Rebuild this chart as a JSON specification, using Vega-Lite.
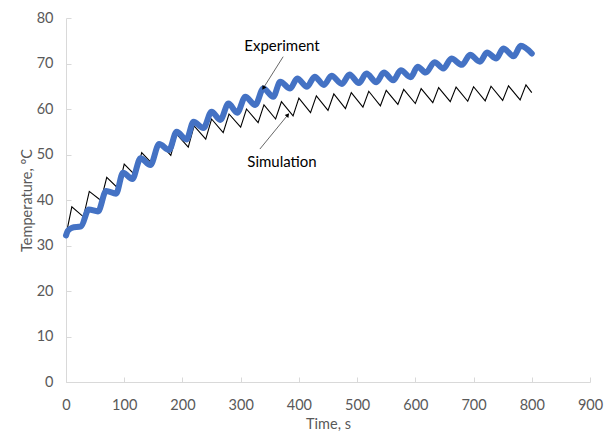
{
  "$schema": "https://vega.github.io/schema/vega-lite/v6.json",
  "width": 524,
  "height": 364,
  "autosize": {"type": "none"},
  "padding": {"left": 66, "top": 18, "right": 21, "bottom": 51},
  "background": "white",
  "config": {
    "view": {"stroke": null},
    "font": "Lato",
    "axis": {
      "grid": false,
      "domainColor": "#d9d9d9",
      "tickColor": "#d9d9d9",
      "tickSize": -5,
      "labelFlush": false,
      "labelColor": "#595959",
      "labelFont": "Lato",
      "labelFontSize": 14.5,
      "titleColor": "#595959",
      "titleFont": "Lato",
      "titleFontSize": 14.5,
      "titleFontWeight": "normal"
    }
  },
  "datasets": {
    "sim": [
      {"t":0,"T":32.3},{"t":10,"T":38.5},{"t":30,"T":36.3},{"t":40,"T":41.9},{"t":60,"T":39.9},{"t":70,"T":45.0},
      {"t":90,"T":42.5},{"t":100,"T":47.9},{"t":120,"T":45.3},{"t":130,"T":50.4},{"t":150,"T":47.7},{"t":160,"T":52.6},
      {"t":180,"T":49.8},{"t":190,"T":54.5},{"t":210,"T":51.6},{"t":220,"T":56.3},{"t":240,"T":53.4},{"t":250,"T":57.8},
      {"t":270,"T":54.8},{"t":280,"T":58.9},{"t":300,"T":56.0},{"t":310,"T":60.0},{"t":330,"T":57.0},{"t":340,"T":60.9},
      {"t":360,"T":57.8},{"t":370,"T":61.6},{"t":390,"T":58.5},{"t":400,"T":62.4},{"t":420,"T":59.2},{"t":430,"T":62.9},
      {"t":450,"T":59.7},{"t":460,"T":63.3},{"t":480,"T":60.1},{"t":490,"T":63.6},{"t":510,"T":60.4},{"t":520,"T":63.9},
      {"t":540,"T":60.7},{"t":550,"T":64.1},{"t":570,"T":61.0},{"t":580,"T":64.3},{"t":600,"T":61.2},{"t":610,"T":64.5},
      {"t":630,"T":61.4},{"t":640,"T":64.7},{"t":660,"T":61.6},{"t":670,"T":64.8},{"t":690,"T":61.7},{"t":700,"T":64.9},
      {"t":720,"T":61.8},{"t":730,"T":65.0},{"t":750,"T":61.9},{"t":760,"T":65.1},{"t":780,"T":62.0},{"t":790,"T":65.3},
      {"t":800,"T":63.6}
    ],
    "exp": [
      {"t":0,"T":32.2},{"t":3,"T":33.2},{"t":10,"T":33.9},{"t":26,"T":34.2},{"t":39,"T":37.9},{"t":55,"T":37.5},
      {"t":69,"T":42.0},{"t":86,"T":41.4},{"t":98,"T":46.0},{"t":114,"T":44.6},{"t":128,"T":49.2},{"t":145,"T":47.7},
      {"t":160,"T":52.3},{"t":177,"T":51.0},{"t":190,"T":55.0},{"t":207,"T":53.3},{"t":219,"T":57.2},{"t":236,"T":55.8},
      {"t":250,"T":59.4},{"t":265,"T":57.6},{"t":279,"T":61.2},{"t":294,"T":59.2},{"t":308,"T":62.7},{"t":325,"T":60.9},
      {"t":339,"T":64.5},{"t":356,"T":62.7},{"t":368,"T":66.0},{"t":385,"T":64.5},{"t":397,"T":66.7},{"t":414,"T":64.9},
      {"t":427,"T":67.1},{"t":443,"T":65.3},{"t":456,"T":67.3},{"t":474,"T":65.5},{"t":487,"T":67.6},{"t":503,"T":65.7},
      {"t":516,"T":67.8},{"t":533,"T":65.9},{"t":546,"T":68.0},{"t":562,"T":66.3},{"t":575,"T":68.5},{"t":592,"T":67.0},
      {"t":604,"T":69.3},{"t":618,"T":68.0},{"t":633,"T":70.3},{"t":648,"T":68.9},{"t":662,"T":71.1},{"t":680,"T":69.7},
      {"t":694,"T":71.9},{"t":711,"T":70.4},{"t":723,"T":72.4},{"t":739,"T":71.1},{"t":751,"T":73.3},{"t":769,"T":71.6},
      {"t":781,"T":73.9},{"t":800,"T":72.2}
    ],
    "arrows": [
      {"t":373,"T":71.5,"t2":339,"T2":64.6,"angle":212},
      {"t":333,"T":51.2,"t2":381,"T2":58.7,"angle":39}
    ],
    "labels": [
      {"t":371,"T":73.8,"label":"Experiment"},
      {"t":371,"T":48.4,"label":"Simulation"}
    ]
  },
  "layer": [
    {
      "data": {"name": "sim"},
      "mark": {"type": "line", "color": "#000000", "strokeWidth": 1.1},
      "encoding": {
        "x": {"field": "t", "type": "quantitative", "scale": {"domain": [0, 900], "nice": false},
              "axis": {"title": "Time, s", "values": [0,100,200,300,400,500,600,700,800,900], "labelPadding": 21, "titlePadding": 6}},
        "y": {"field": "T", "type": "quantitative", "scale": {"domain": [0, 80], "nice": false},
              "axis": {"title": "Temperature, ºC", "values": [0,10,20,30,40,50,60,70,80], "labelPadding": 18, "titlePadding": 2}}
      }
    },
    {
      "data": {"name": "exp"},
      "mark": {"type": "line", "color": "#4472C4", "strokeWidth": 6, "interpolate": "monotone", "strokeCap": "round", "strokeJoin": "round"},
      "encoding": {
        "x": {"field": "t", "type": "quantitative"},
        "y": {"field": "T", "type": "quantitative"}
      }
    },
    {
      "data": {"name": "arrows"},
      "mark": {"type": "rule", "color": "#404040", "strokeWidth": 0.8},
      "encoding": {
        "x": {"field": "t", "type": "quantitative"},
        "y": {"field": "T", "type": "quantitative"},
        "x2": {"field": "t2"},
        "y2": {"field": "T2"}
      }
    },
    {
      "data": {"name": "arrows"},
      "mark": {"type": "point", "shape": "triangle-up", "filled": true, "color": "#000000", "size": 22, "opacity": 1},
      "encoding": {
        "x": {"field": "t2", "type": "quantitative"},
        "y": {"field": "T2", "type": "quantitative"},
        "angle": {"field": "angle", "type": "quantitative", "scale": null}
      }
    },
    {
      "data": {"name": "labels"},
      "mark": {"type": "text", "font": "Lato", "fontSize": 15, "color": "#000000", "align": "center", "baseline": "middle"},
      "encoding": {
        "x": {"field": "t", "type": "quantitative"},
        "y": {"field": "T", "type": "quantitative"},
        "text": {"field": "label", "type": "nominal"}
      }
    }
  ]
}
